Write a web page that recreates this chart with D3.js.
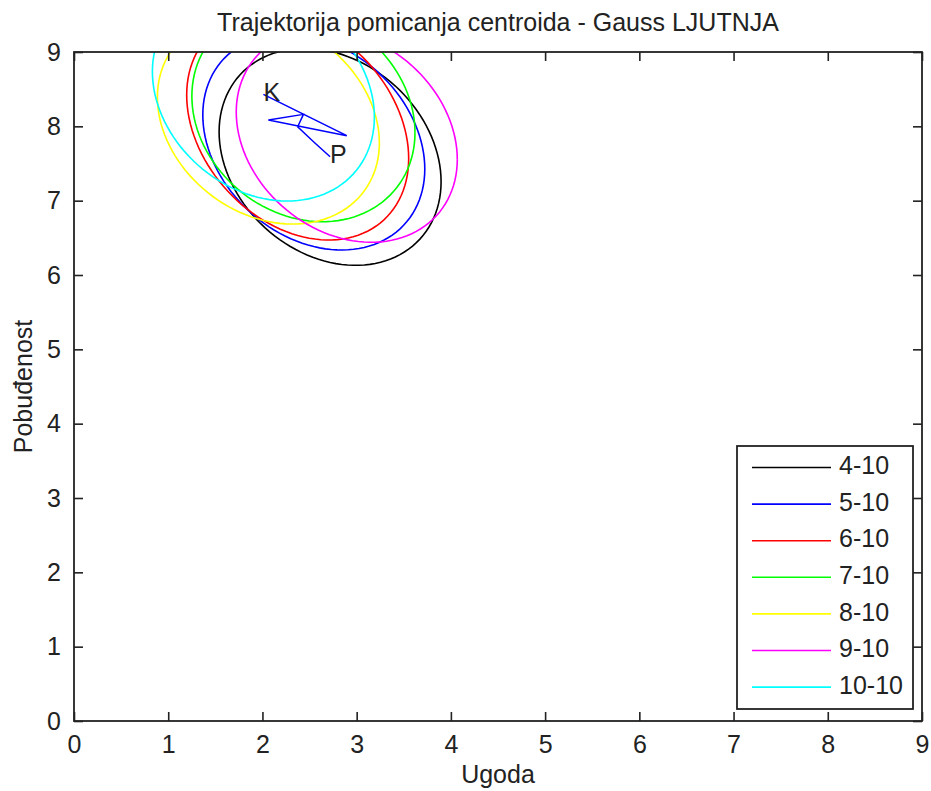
<!DOCTYPE html>
<html>
<head>
<meta charset="utf-8">
<script src="https://cdn.jsdelivr.net/npm/d3@7"></script>
<style>
  html, body { margin: 0; padding: 0; background: #fff; }
  text { font-family: "Liberation Sans", Arial, sans-serif; fill: #222; }
</style>
</head>
<body>
<script>
// podaci
var seriesNames = ["4-10", "5-10", "6-10", "7-10", "8-10", "9-10", "10-10"];
var centerX = [2.718, 2.545, 2.374, 2.435, 2.063, 2.895, 2.01];
var centerY = [7.59, 7.79, 7.995, 8.161, 8.085, 7.874, 8.43];
var spreadX = [1.178, 1.178, 1.178, 1.184, 1.178, 1.173, 1.178];
var spreadY = [1.46, 1.454, 1.524, 1.444, 1.40, 1.434, 1.435];
var corr = [-0.23, -0.25, -0.28, -0.17, -0.22, -0.222, -0.214];
var xTicks = [0, 1, 2, 3, 4, 5, 6, 7, 8, 9];
var yTicks = [0, 1, 2, 3, 4, 5, 6, 7, 8, 9];

var colors = ["#000000", "#0000ff", "#ff0000", "#00ff00", "#ffff00", "#ff00ff", "#00ffff"];

var width = 931, height = 791;
var plotLeft = 74, plotRight = 922, plotTop = 52, plotBottom = 721;
var fontSize = 25;
var tickLen = 9;

var x = d3.scaleLinear().domain([0, 9]).range([plotLeft, plotRight]);
var y = d3.scaleLinear().domain([0, 9]).range([plotBottom, plotTop]);

var svg = d3.select("body")
    .append("svg")
    .attr("width", width)
    .attr("height", height);

svg.append("defs").append("clipPath")
    .attr("id", "plotClip")
    .append("rect")
    .attr("x", plotLeft)
    .attr("y", plotTop)
    .attr("width", plotRight - plotLeft)
    .attr("height", plotBottom - plotTop);

//elipse (kontura Gaussove razdiobe)
function ellipsePoints(i) {
    var pts = [];
    var r = corr[i];
    for (var k = 0; k <= 120; k++) {
        var t = k / 120 * 2 * Math.PI;
        var u = Math.cos(t), v = Math.sin(t);
        pts.push([
            centerX[i] + spreadX[i] * u,
            centerY[i] + spreadY[i] * (r * u + Math.sqrt(1 - r * r) * v)
        ]);
    }
    return pts;
}

var line = d3.line()
    .x(function (d) { return x(d[0]); })
    .y(function (d) { return y(d[1]); });

var plot = svg.append("g").attr("clip-path", "url(#plotClip)");

plot.selectAll("path.ell")
    .data(seriesNames)
    .enter()
    .append("path")
    .attr("class", "ell")
    .attr("d", function (d, i) { return line(ellipsePoints(i)); })
    .attr("fill", "none")
    .attr("stroke", function (d, i) { return colors[i]; })
    .attr("stroke-width", 1.6);

//trajektorija centroida
var traj = centerX.map(function (cx, i) { return [cx, centerY[i]]; });
plot.append("path")
    .attr("d", line(traj))
    .attr("fill", "none")
    .attr("stroke", "#0000ff")
    .attr("stroke-width", 1.5);

svg.append("text")
    .attr("x", x(traj[0][0]))
    .attr("y", y(traj[0][1]))
    .attr("dominant-baseline", "middle")
    .attr("font-size", fontSize + "px")
    .text("P");
svg.append("text")
    .attr("x", x(traj[traj.length - 1][0]))
    .attr("y", y(traj[traj.length - 1][1]))
    .attr("dominant-baseline", "middle")
    .attr("font-size", fontSize + "px")
    .text("K");

//osi
var axisColor = "#222";
svg.append("rect")
    .attr("x", plotLeft)
    .attr("y", plotTop)
    .attr("width", plotRight - plotLeft)
    .attr("height", plotBottom - plotTop)
    .attr("fill", "none")
    .attr("stroke", axisColor)
    .attr("stroke-width", 1.8);

var bottomAxis = d3.axisBottom(x).tickValues(xTicks).tickSize(-tickLen).tickPadding(14);
var topAxis = d3.axisTop(x).tickValues(xTicks).tickSize(-tickLen).tickFormat("");
var leftAxis = d3.axisLeft(y).tickValues(yTicks).tickSize(-tickLen).tickPadding(13);
var rightAxis = d3.axisRight(y).tickValues(yTicks).tickSize(-tickLen).tickFormat("");

function styleAxis(g) {
    g.select(".domain").remove();
    g.selectAll(".tick line").attr("stroke", axisColor).attr("stroke-width", 1.6);
    g.selectAll(".tick text")
        .attr("font-family", "Liberation Sans, Arial, sans-serif")
        .attr("font-size", fontSize + "px")
        .attr("fill", "#222");
}

svg.append("g").attr("transform", "translate(0," + plotBottom + ")").call(bottomAxis).call(styleAxis);
svg.append("g").attr("transform", "translate(0," + plotTop + ")").call(topAxis).call(styleAxis);
svg.append("g").attr("transform", "translate(" + plotLeft + ",0)").call(leftAxis).call(styleAxis);
svg.append("g").attr("transform", "translate(" + plotRight + ",0)").call(rightAxis).call(styleAxis);

//naslovi
svg.append("text")
    .attr("x", (plotLeft + plotRight) / 2)
    .attr("y", 31)
    .attr("text-anchor", "middle")
    .attr("font-size", fontSize + "px")
    .text("Trajektorija pomicanja centroida - Gauss LJUTNJA");

svg.append("text")
    .attr("x", (plotLeft + plotRight) / 2)
    .attr("y", 783)
    .attr("text-anchor", "middle")
    .attr("font-size", fontSize + "px")
    .text("Ugoda");

svg.append("text")
    .attr("transform", "translate(32," + (plotTop + plotBottom) / 2 + ") rotate(-90)")
    .attr("text-anchor", "middle")
    .attr("font-size", fontSize + "px")
    .text("Pobuđenost");

//legenda
var legX = 737, legY = 446, legW = 176, legH = 263;
var rowStart = 467.5, rowStep = 36.6;
var legend = svg.append("g");
legend.append("rect")
    .attr("x", legX)
    .attr("y", legY)
    .attr("width", legW)
    .attr("height", legH)
    .attr("fill", "#fff")
    .attr("stroke", axisColor)
    .attr("stroke-width", 1.8);

var rows = legend.selectAll("g.row")
    .data(seriesNames)
    .enter()
    .append("g")
    .attr("class", "row")
    .attr("transform", function (d, i) { return "translate(0," + (rowStart + i * rowStep) + ")"; });

rows.append("line")
    .attr("x1", 752)
    .attr("x2", 831)
    .attr("stroke", function (d, i) { return colors[i]; })
    .attr("stroke-width", 1.6);

rows.append("text")
    .attr("x", 839)
    .attr("dominant-baseline", "middle")
    .attr("font-size", fontSize + "px")
    .text(function (d) { return d; });
</script>
</body>
</html>
